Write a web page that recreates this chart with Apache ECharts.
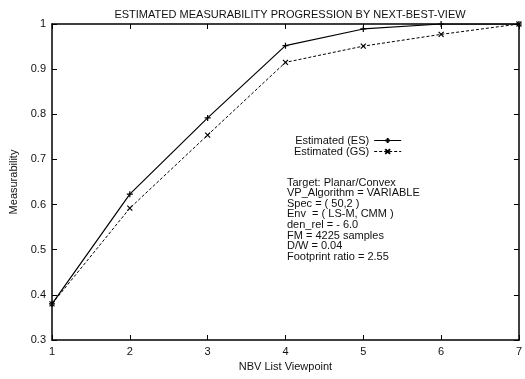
<!DOCTYPE html>
<html><head><meta charset="utf-8">
<script src="https://cdn.jsdelivr.net/npm/echarts@6/dist/echarts.min.js"></script>
<style>html,body{margin:0;padding:0;background:#fff}#c{width:525px;height:379px}</style>
</head><body><div id="c"></div>
<script>
var viewpoints = [1, 2, 3, 4, 5, 6, 7];
var esValues = [0.38, 0.623, 0.792, 0.952, 0.989, 1.0, 1.0];
var gsValues = [0.38, 0.592, 0.754, 0.915, 0.951, 0.977, 1.0];
var seriesNames = ['Estimated (ES)', 'Estimated (GS)'];
var infoLines = ['Target: Planar/Convex', 'VP_Algorithm = VARIABLE', 'Spec = ( 50,2 )', 'Env  = ( LS-M, CMM )', 'den_rel = - 6.0', 'FM = 4225 samples', 'D/W = 0.04', 'Footprint ratio = 2.55'];

var FONT = 'Liberation Sans, Arial, Helvetica, sans-serif';
var plusPath = 'path://M5 0 L5 10 M0 5 L10 5';
var crossPath = 'path://M0 0 L10 10 M10 0 L0 10';
function pairs(vals){ return viewpoints.map(function(x,i){return [x, vals[i]];}); }

var chart = echarts.init(document.getElementById('c'), null, {renderer:'canvas'});
var axisLine = {show:true, lineStyle:{color:'#000', width:1.5}};
var tick = {show:true, inside:true, length:5, lineStyle:{color:'#000', width:1}};
chart.setOption({
  animation:false,
  backgroundColor:'#fff',
  title:{text:'ESTIMATED MEASURABILITY PROGRESSION BY NEXT-BEST-VIEW', left:285, textAlign:'center', top:4,
    textStyle:{fontFamily:FONT, fontSize:11, fontWeight:'normal', color:'#111'}},
  grid:{left:48, right:3, top:24, bottom:39},
  legend:{
    data:[{name:seriesNames[0]},{name:seriesNames[1]}],
    orient:'vertical', left:289, top:130, align:'right', itemWidth:27, itemHeight:6, itemGap:0,
    lineStyle:{width:1},
    textStyle:{fontFamily:FONT, fontSize:11, color:'#111', lineHeight:9, height:9, padding:[0,0,0,0]}
  },
  xAxis:[{type:'value', min:1, max:7, interval:1, position:'bottom',
    name:'NBV List Viewpoint', nameLocation:'middle', nameGap:20,
    nameTextStyle:{fontFamily:FONT, fontSize:11, color:'#111'},
    axisLine:axisLine, axisTick:tick, splitLine:{show:false},
    axisLabel:{fontFamily:FONT, fontSize:11, color:'#111', margin:6}},
   {type:'value', min:1, max:7, interval:1, position:'top',
    axisLine:axisLine, axisTick:tick, splitLine:{show:false}, axisLabel:{show:false}}],
  yAxis:[{type:'value', min:0.3, max:1, interval:0.1, position:'left',
    name:'Measurability', nameLocation:'middle', nameGap:33, nameRotate:90,
    nameTextStyle:{fontFamily:FONT, fontSize:11, color:'#111'},
    axisLine:axisLine, axisTick:tick, splitLine:{show:false},
    axisLabel:{fontFamily:FONT, fontSize:11, color:'#111', margin:6,
      formatter:function(v){return String(Math.round(v*10)/10);}}},
   {type:'value', min:0.3, max:1, interval:0.1, position:'right',
    axisLine:axisLine, axisTick:tick, splitLine:{show:false}, axisLabel:{show:false}}],
  graphic:[{type:'text', left:287, top:177, style:{text:infoLines.join('\n'), font:'11px '+FONT, fill:'#111', lineHeight:10.6}}],
  series:[
    {name:seriesNames[0], type:'line', data:pairs(esValues), symbol:plusPath, symbolSize:6,
      lineStyle:{color:'#000', width:1.2}, itemStyle:{color:'#000', borderColor:'#000', borderWidth:1.2}},
    {name:seriesNames[1], type:'line', data:pairs(gsValues), symbol:crossPath, symbolSize:5,
      lineStyle:{color:'#000', width:1, type:[3,2]}, itemStyle:{color:'#000', borderColor:'#000', borderWidth:1.2}}
  ]
});
</script></body></html>
